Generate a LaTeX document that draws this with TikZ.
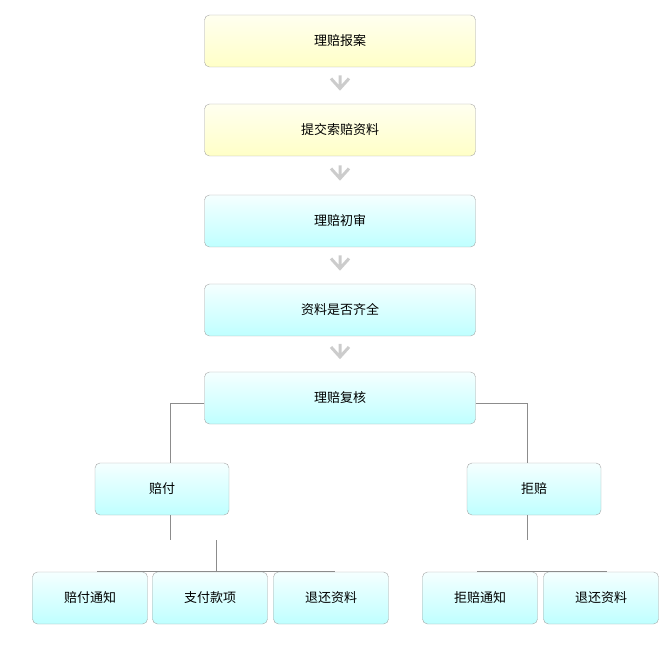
\documentclass[tikz,border=0pt]{standalone}
\usepackage{fontspec}
\setmainfont{Noto Sans CJK SC}
\usetikzlibrary{positioning, calc}

\tikzset{
    stepbox/.style={draw=black!35, rounded corners=5pt, minimum height=52pt, font=\fontsize{13}{15}\selectfont},
    yellowbox/.style={stepbox, minimum width=271pt, top color=yellow!6, bottom color=yellow!22},
    bluebox/.style={stepbox, minimum width=271pt, top color=cyan!4, bottom color=cyan!25},
    midbox/.style={bluebox, minimum width=134pt},
    leafbox/.style={bluebox, minimum width=115pt},
    link/.style={draw=black!45, line width=0.8pt},
    flow/.style={draw=black!20, line width=3pt}
}

\begin{document}
\begin{tikzpicture}[x=1pt, y=-1pt]
        \useasboundingbox (0,0) rectangle (667,660);

        \node[yellowbox] (report) at (340, 41) {理赔报案};
        \node[yellowbox] (submit) at (340, 130) {提交索赔资料};
        \node[bluebox] (first) at (340, 221) {理赔初审};
        \node[bluebox] (check) at (340, 310) {资料是否齐全};
        \node[bluebox] (review) at (340, 398) {理赔复核};

        \node[midbox] (pay) at (162, 489) {赔付};
        \node[midbox] (deny) at (534, 489) {拒赔};

        \node[leafbox] (paynote) at (90, 598) {赔付通知};
        \node[leafbox] (paysum) at (210, 598) {支付款项};
        \node[leafbox] (payback) at (331, 598) {退还资料};
        \node[leafbox] (denynote) at (480, 598) {拒赔通知};
        \node[leafbox] (denyback) at (601, 598) {退还资料};

        % grey chevrons between the steps
        \foreach \a/\b in {report/submit, submit/first, first/check, check/review}
            \draw[flow] ($(\a.south)!0.5!(\b.north)+(-9,-7)$) -- ($(\a.south)!0.5!(\b.north)+(0,3)$)
                -- ($(\a.south)!0.5!(\b.north)+(9,-7)$)
                ($(\a.south)!0.5!(\b.north)+(0,-10)$) -- ($(\a.south)!0.5!(\b.north)+(0,2)$);

        \draw[link] (review.west |- 0,403) -| (pay.north -| 170,0)
            (review.east |- 0,403) -| (deny.north -| 527,0);
        \draw[link] (pay.south -| 170,0) -- (170, 540)
            (paynote.north -| 97,0) |- (payback.north -| 335,540) -- (payback.north -| 335,0)
            (paysum.north -| 216,0) -- (216, 540);
        \draw[link] (deny.south -| 527,0) -- (527, 540)
            (denynote.north -| 477,0) |- (denyback.north -| 607,540) -- (denyback.north -| 607,0);
    \end{tikzpicture}
\end{document}
